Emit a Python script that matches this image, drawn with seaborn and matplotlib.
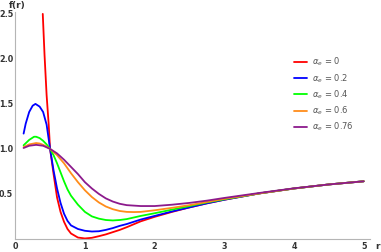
import matplotlib
matplotlib.use("Agg")
import matplotlib.pyplot as plt
import seaborn as sns
import pandas as pd
from matplotlib.ticker import MultipleLocator

# values, one list per alpha
r_red = [0.395, 0.42, 0.45, 0.48, 0.5, 0.55, 0.6, 0.65, 0.7, 0.75, 0.8, 0.9, 1.0, 1.1, 1.2, 1.3,
         1.4, 1.5, 1.6, 1.8, 2.0, 2.25, 2.5, 2.75, 3.0, 3.5, 4.0, 4.5, 5.0]
f_red = [2.5, 2.05, 1.6, 1.27, 1.0, 0.72, 0.46, 0.3, 0.19, 0.11, 0.06, 0.015, 0.005, 0.012, 0.03, 0.05,
         0.075, 0.1, 0.13, 0.195, 0.245, 0.3, 0.35, 0.395, 0.435, 0.505, 0.56, 0.605, 0.64]

r_blue = [0.12, 0.15, 0.2, 0.25, 0.29, 0.35, 0.4, 0.45, 0.5, 0.55, 0.6, 0.65, 0.7, 0.75, 0.8, 0.9,
          1.0, 1.1, 1.2, 1.3, 1.4, 1.5, 1.6, 1.8, 2.0, 2.25, 2.5, 2.75, 3.0, 3.5, 4.0, 4.5, 5.0]
f_blue = [1.17, 1.28, 1.41, 1.48, 1.5, 1.47, 1.41, 1.27, 1.0, 0.76, 0.56, 0.4, 0.28, 0.2, 0.15, 0.11,
          0.09, 0.082, 0.085, 0.1, 0.12, 0.145, 0.165, 0.215, 0.255, 0.305, 0.35, 0.395, 0.435, 0.505, 0.56, 0.605, 0.64]

r_green = [0.12, 0.2, 0.27, 0.3, 0.35, 0.4, 0.45, 0.5, 0.55, 0.6, 0.65, 0.7, 0.75, 0.8, 0.9, 1.0,
           1.1, 1.2, 1.3, 1.4, 1.5, 1.6, 1.8, 2.0, 2.25, 2.5, 2.75, 3.0, 3.5, 4.0, 4.5, 5.0]
f_green = [1.04, 1.1, 1.135, 1.135, 1.12, 1.09, 1.05, 1.0, 0.93, 0.84, 0.74, 0.64, 0.55, 0.48, 0.38, 0.3,
           0.25, 0.225, 0.21, 0.205, 0.21, 0.22, 0.255, 0.285, 0.325, 0.365, 0.405, 0.44, 0.505, 0.56, 0.605, 0.64]

r_orange = [0.12, 0.2, 0.3, 0.35, 0.4, 0.45, 0.5, 0.6, 0.7, 0.8, 0.9, 1.0, 1.1, 1.2, 1.3, 1.4,
            1.5, 1.6, 1.7, 1.8, 2.0, 2.25, 2.5, 2.75, 3.0, 3.5, 4.0, 4.5, 5.0]
f_orange = [1.02, 1.05, 1.065, 1.06, 1.045, 1.025, 1.0, 0.93, 0.84, 0.73, 0.63, 0.54, 0.465, 0.405, 0.36, 0.33,
            0.31, 0.3, 0.298, 0.3, 0.318, 0.345, 0.375, 0.41, 0.445, 0.505, 0.56, 0.605, 0.64]

r_purple = [0.12, 0.2, 0.3, 0.4, 0.5, 0.6, 0.7, 0.8, 0.9, 1.0, 1.1, 1.2, 1.3, 1.4, 1.5, 1.6,
            1.8, 2.0, 2.25, 2.5, 2.75, 3.0, 3.5, 4.0, 4.5, 5.0]
f_purple = [1.01, 1.035, 1.045, 1.035, 1.0, 0.95, 0.88, 0.8, 0.72, 0.63, 0.56, 0.5, 0.45, 0.415, 0.39, 0.375,
            0.365, 0.365, 0.38, 0.4, 0.425, 0.455, 0.51, 0.562, 0.605, 0.64]

labels = [r"$\alpha_e$ = 0", r"$\alpha_e$ = 0.2", r"$\alpha_e$ = 0.4", r"$\alpha_e$ = 0.6", r"$\alpha_e$ = 0.76"]
colors = ["#ff0000", "#0000ff", "#00ff00", "#ff8c1a", "#8c1a8c"]

series = [(r_red, f_red), (r_blue, f_blue), (r_green, f_green), (r_orange, f_orange), (r_purple, f_purple)]
df = pd.concat(
    [pd.DataFrame({"r": rr, "f": ff, "alpha": lab}) for (rr, ff), lab in zip(series, labels)],
    ignore_index=True,
)

sns.set_style("white")
plt.rcParams["font.family"] = ["DejaVu Sans"]
plt.rcParams["mathtext.fontset"] = "dejavusans"

fig = plt.figure(figsize=(3.81, 2.52), dpi=100)
ax = fig.add_axes([0.040, 0.052, 0.931, 0.9])

sns.lineplot(data=df, x="r", y="f", hue="alpha", palette=colors, hue_order=labels,
             sort=False, estimator=None, linewidth=1.3, ax=ax)

ax.set_xlim(0, 5.09)
ax.set_ylim(0, 2.52)
ax.set_xlabel("")
ax.set_ylabel("")

for s in ["top", "right"]:
    ax.spines[s].set_visible(False)
for s in ["left", "bottom"]:
    ax.spines[s].set_color("#b5b5b5")
    ax.spines[s].set_linewidth(0.8)

ax.xaxis.set_major_locator(MultipleLocator(1))
ax.xaxis.set_minor_locator(MultipleLocator(0.2))
ax.yaxis.set_major_locator(MultipleLocator(0.5))
ax.yaxis.set_minor_locator(MultipleLocator(0.1))
ax.tick_params(which="both", direction="in", color="#b5b5b5", width=0.6)
ax.tick_params(which="major", length=4, labelsize=5.8, labelcolor="#333333")
ax.tick_params(axis="y", which="major", pad=1.5)
ax.tick_params(axis="x", which="major", pad=2.5)
ax.tick_params(which="minor", length=2)
ax.set_yticks([0.5, 1.0, 1.5, 2.0, 2.5])
ax.set_yticklabels(["0.5", "1.0", "1.5", "2.0", "2.5"])
for t in ax.get_xticklabels() + ax.get_yticklabels():
    t.set_fontweight("bold")

fig.text(0.045, 0.995, "f(r)", fontsize=6.5, fontweight="bold", color="#333333", ha="center", va="top")
ax.text(5.2, -0.03, "r", fontsize=6.5, fontweight="bold", color="#333333", ha="center", va="top",
        clip_on=False)

leg = ax.legend(loc="upper left", bbox_to_anchor=(0.765, 0.84), frameon=False, fontsize=6,
                handlelength=1.6, labelspacing=0.45, handletextpad=0.6)
for txt in leg.get_texts():
    txt.set_color("#555555")

fig.savefig("out.png", dpi=100)
